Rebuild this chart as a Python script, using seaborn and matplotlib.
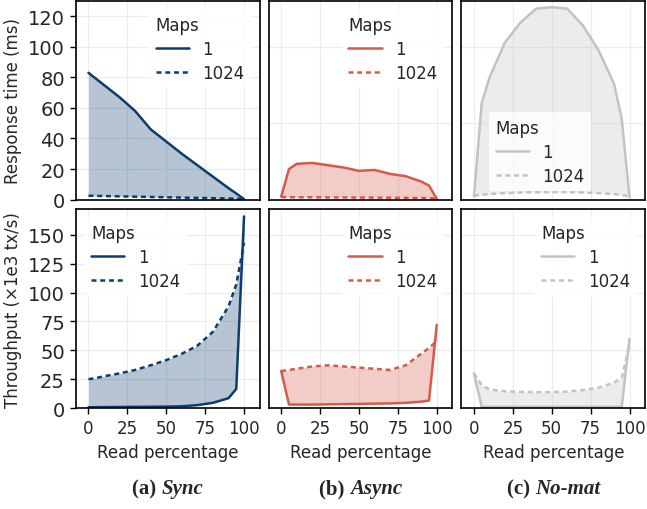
import numpy as np
import pandas as pd
import matplotlib.pyplot as plt
import seaborn as sns

# read percentages sampled
read_pct = [0, 5, 10, 20, 30, 40, 50, 60, 70, 80, 90, 95, 100]

# response time (ms)
rt_sync_1 = [83, 79, 75, 67, 58, 46, 38, 30, 22.5, 15, 7.5, 4, 0.3]
rt_sync_1024 = [2.5, 2.4, 2.3, 2.1, 1.9, 1.7, 1.5, 1.3, 1.1, 0.9, 0.7, 0.6, 0.5]
rt_async_1 = [2, 20, 23.4, 24, 22.5, 21, 18.8, 19.4, 16.8, 15.3, 11.8, 9.2, 0.5]
rt_async_1024 = [1.6, 1.6, 1.5, 1.5, 1.4, 1.4, 1.3, 1.3, 1.2, 1.1, 1.0, 0.9, 0.7]
rt_nomat_1 = [2, 63, 80, 103, 116, 125, 126, 125, 114, 98, 76, 53, 1.5]
rt_nomat_1024 = [2.5, 3.2, 3.6, 4.2, 4.6, 4.8, 4.9, 4.8, 4.6, 4.2, 3.5, 3.0, 2.0]

# throughput (x1e3 tx/s)
tp_sync_1 = [0.6, 0.7, 0.8, 0.9, 1.0, 1.1, 1.2, 1.5, 2.5, 4.5, 8.5, 16.5, 166]
tp_sync_1024 = [25, 26, 27.5, 30, 33, 37, 41.5, 47, 54, 66, 88, 107, 143]
tp_async_1 = [32, 3, 3, 3, 3.2, 3.4, 3.6, 3.8, 4.0, 4.5, 5.5, 6.5, 72]
tp_async_1024 = [32, 33, 34, 36, 37, 36, 35, 34, 33, 37, 47, 52, 58]
tp_nomat_1 = [30, 1, 1, 1, 1, 1, 1, 1, 1, 1, 1, 1, 60]
tp_nomat_1024 = [30, 20, 16, 14.5, 14, 13.8, 13.8, 14.2, 15.5, 17.5, 22, 26, 55]

modes = ["Sync", "Async", "No-mat"]
captions = ["(a) ", "(b) ", "(c) "]
colors = ["#0d3d6e", "#d65a4a", "#c6c2c2"]
rt = [(rt_sync_1, rt_sync_1024), (rt_async_1, rt_async_1024), (rt_nomat_1, rt_nomat_1024)]
tp = [(tp_sync_1, tp_sync_1024), (tp_async_1, tp_async_1024), (tp_nomat_1, tp_nomat_1024)]

sns.set_style("whitegrid", {"axes.edgecolor": "black", "grid.color": "#ececec",
                            "xtick.bottom": True, "ytick.left": True})
plt.rcParams["font.family"] = ["DejaVu Sans"]
plt.rcParams["font.size"] = 12

fig, axes = plt.subplots(2, 3, figsize=(6.47, 5.1), dpi=100, sharex=True)
fig.subplots_adjust(left=0.1175, right=0.997, top=0.996, bottom=0.198,
                    wspace=0.05, hspace=0.05)

# (loc, bbox_to_anchor) per panel
legend_pos = [[("upper right", None), ("upper right", None), ("lower left", (0.104, 0.0))],
              [("upper left", None), ("upper right", None), ("upper right", None)]]

for row, (values, ylim) in enumerate([(rt, 130), (tp, 172)]):
    for col in range(3):
        ax = axes[row, col]
        one, many = values[col]
        df = pd.DataFrame({
            "Read percentage": read_pct * 2,
            "value": one + many,
            "Maps": ["1"] * len(read_pct) + ["1024"] * len(read_pct),
        })
        sns.lineplot(data=df, x="Read percentage", y="value", style="Maps",
                     dashes={"1": "", "1024": (2, 1.5)}, color=colors[col],
                     linewidth=1.8, ax=ax)
        ax.fill_between(read_pct, one, many, color=colors[col], alpha=0.3, linewidth=0)
        ax.set_xlim(-8, 110)
        ax.set_ylim(0, ylim)
        ax.set_xticks([0, 25, 50, 75, 100])
        ax.tick_params(length=4, width=1, color="black", pad=4)
        ax.tick_params(axis="x", labelsize=12)
        ax.tick_params(axis="y", labelsize=14)
        for sp in ax.spines.values():
            sp.set_linewidth(1.2)
        loc, anchor = legend_pos[row][col]
        kw = {"bbox_to_anchor": anchor} if anchor else {}
        leg = ax.legend(title="Maps", loc=loc, fontsize=12, title_fontsize=12,
                        labelspacing=0.35, frameon=True, framealpha=0.8,
                        edgecolor="none", **kw)
        leg._legend_box.align = "left"
        if col > 0:
            ax.set_yticklabels([])
            ax.tick_params(axis="y", length=0)
            ax.set_ylabel("")
        if row == 0:
            ax.set_xlabel("")
            ax.tick_params(axis="x", length=0)
        else:
            ax.set_xlabel("Read percentage", fontsize=12)

axes[0, 0].set_ylabel("Response time (ms)", fontsize=12)
axes[1, 0].set_ylabel("Throughput (×1e3 tx/s)", fontsize=12)
axes[0, 0].set_yticks([0, 20, 40, 60, 80, 100, 120])
axes[1, 0].set_yticks([0, 25, 50, 75, 100, 125, 150])
fig.align_ylabels(axes[:, 0])

# captions under each column: "(x) " bold serif followed by bold italic mode name
fig.canvas.draw()
renderer = fig.canvas.get_renderer()
for col in range(3):
    box = axes[1, col].get_position()
    cx = (box.x0 + box.x1) / 2
    t1 = fig.text(0, 0.041, captions[col], family="Liberation Serif",
                  weight="bold", fontsize=15, va="center", ha="left")
    t2 = fig.text(0, 0.041, modes[col], family="Liberation Serif", weight="bold",
                  style="italic", fontsize=15, va="center", ha="left")
    w1 = t1.get_window_extent(renderer).width / fig.bbox.width
    w2 = t2.get_window_extent(renderer).width / fig.bbox.width
    x0 = cx - (w1 + w2) / 2
    t1.set_x(x0)
    t2.set_x(x0 + w1)

fig.savefig("out.png", dpi=100)
